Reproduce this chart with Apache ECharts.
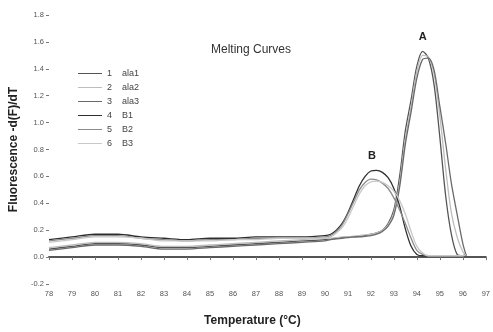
<!DOCTYPE html>
<html>
<head>
<meta charset="utf-8">
<script src="https://cdn.jsdelivr.net/npm/echarts@6/dist/echarts.min.js"></script>
<style>
  html, body { margin: 0; padding: 0; background: #fff; }
  #main { width: 493px; height: 332px; }
</style>
</head>
<body>
<div id="main"></div>
<script>
// temperatures shared by all curves
var temps = [78, 79, 80, 81, 82, 83, 84, 85, 86, 87, 88, 89, 90,
  90.25, 90.5, 90.75, 91, 91.25, 91.5, 91.75, 92, 92.25, 92.5, 92.75,
  93, 93.25, 93.5, 93.75, 94, 94.25, 94.5, 94.75, 95, 95.25, 95.5, 95.75, 96, 96.15];

var seriesNames = ['ala1', 'ala2', 'ala3', 'B1', 'B2', 'B3'];
var seriesColors = ['#555555', '#bdbdbd', '#6a6a6a', '#2e2e2e', '#8c8c8c', '#c8c8c8'];

var ala1 = [0.06, 0.08, 0.10, 0.10, 0.09, 0.07, 0.07, 0.08, 0.09, 0.10, 0.11, 0.12, 0.13,
  0.135, 0.14, 0.145, 0.15, 0.15, 0.155, 0.16, 0.17, 0.18, 0.20, 0.25,
  0.35, 0.60, 0.94, 1.17, 1.42, 1.53, 1.48, 1.28, 0.89, 0.46, 0.17, 0.02, 0.01, 0.01];
var ala2 = [0.07, 0.09, 0.11, 0.11, 0.10, 0.08, 0.08, 0.09, 0.10, 0.11, 0.12, 0.13, 0.14,
  0.14, 0.145, 0.15, 0.15, 0.155, 0.16, 0.165, 0.17, 0.18, 0.20, 0.24,
  0.33, 0.55, 0.88, 1.12, 1.38, 1.50, 1.49, 1.36, 1.05, 0.66, 0.33, 0.15, 0.04, 0.01];
var ala3 = [0.05, 0.07, 0.09, 0.09, 0.08, 0.06, 0.06, 0.07, 0.08, 0.09, 0.10, 0.11, 0.12,
  0.13, 0.135, 0.14, 0.145, 0.15, 0.15, 0.155, 0.16, 0.17, 0.19, 0.23,
  0.31, 0.52, 0.84, 1.08, 1.33, 1.47, 1.48, 1.39, 1.12, 0.85, 0.55, 0.32, 0.10, 0.01];
var b1 = [0.13, 0.15, 0.17, 0.17, 0.15, 0.14, 0.13, 0.14, 0.14, 0.15, 0.15, 0.15, 0.16,
  0.17, 0.20, 0.25, 0.33, 0.43, 0.53, 0.60, 0.64, 0.645, 0.63, 0.59,
  0.51, 0.38, 0.21, 0.08, 0.02, 0.01, 0.01, 0.01, 0.01, 0.01, 0.01, 0.01, 0.01, 0.02];
var b2 = [0.12, 0.14, 0.16, 0.16, 0.14, 0.13, 0.12, 0.13, 0.13, 0.14, 0.14, 0.14, 0.15,
  0.16, 0.19, 0.24, 0.32, 0.41, 0.50, 0.555, 0.58, 0.575, 0.55, 0.51,
  0.44, 0.35, 0.25, 0.14, 0.05, 0.02, 0.01, 0.01, 0.01, 0.01, 0.01, 0.01, 0.01, 0.02];
var b3 = [0.11, 0.13, 0.15, 0.15, 0.14, 0.12, 0.12, 0.12, 0.13, 0.13, 0.14, 0.14, 0.14,
  0.15, 0.18, 0.22, 0.29, 0.38, 0.47, 0.53, 0.56, 0.565, 0.555, 0.53,
  0.49, 0.42, 0.32, 0.19, 0.08, 0.03, 0.01, 0.01, 0.01, 0.01, 0.01, 0.01, 0.01, 0.02];

var peakLabels = [
  { name: 'A', coord: [94.25, 1.53] },
  { name: 'B', coord: [92.05, 0.645] }
];

var allValues = [ala1, ala2, ala3, b1, b2, b3];
var font = 'Liberation Sans';

var chart = echarts.init(document.getElementById('main'));

var series = allValues.map(function (vals, i) {
  var s = {
    name: seriesNames[i],
    type: 'line',
    smooth: 0.3,
    symbol: 'none',
    lineStyle: { width: 1.3, color: seriesColors[i] },
    itemStyle: { color: seriesColors[i] },
    data: temps.map(function (t, k) { return [t, vals[k]]; })
  };
  if (i === 0) {
    s.markPoint = {
      symbol: 'circle',
      symbolSize: 0,
      label: {
        show: true,
        formatter: '{b}',
        offset: [0, -14],
        color: '#222',
        fontWeight: 'bold',
        fontSize: 11,
        fontFamily: font
      },
      data: peakLabels
    };
  }
  return s;
});

var option = {
  animation: false,
  backgroundColor: '#fff',
  title: {
    text: 'Melting Curves',
    left: 246,
    top: 39,
    textAlign: 'center',
    textStyle: { fontSize: 12, fontWeight: 'normal', color: '#333', fontFamily: font }
  },
  legend: {
    orient: 'vertical',
    left: 73,
    top: 64,
    itemWidth: 24,
    itemHeight: 8,
    itemGap: 5,
    data: seriesNames.map(function (n, i) {
      return { name: n, icon: 'path://M0,4L24,4L24,5L0,5Z', itemStyle: { color: seriesColors[i] } };
    }),
    formatter: function (name) {
      return '{n|' + (seriesNames.indexOf(name) + 1) + '}{t|' + name + '}';
    },
    textStyle: {
      fontFamily: font,
      fontSize: 9,
      color: '#444',
      rich: {
        n: { width: 15, fontSize: 9, color: '#444', fontFamily: font },
        t: { fontSize: 9, color: '#444', fontFamily: font }
      }
    }
  },
  grid: { left: 46, right: 6, top: 15, bottom: 46 },
  xAxis: {
    type: 'value',
    min: 78,
    max: 97,
    interval: 1,
    name: 'Temperature (\u00b0C)',
    nameLocation: 'middle',
    nameGap: 31,
    nameTextStyle: { fontFamily: font, fontSize: 12, fontWeight: 'bold', color: '#222', padding: [0, 30, 0, 0] },
    axisLine: { show: true, lineStyle: { color: '#555', width: 2 } },
    axisTick: { show: true, length: 3, lineStyle: { color: '#777' } },
    axisLabel: { fontFamily: font, fontSize: 7.5, color: '#555', margin: 6 },
    splitLine: { show: false }
  },
  yAxis: {
    type: 'value',
    min: -0.2,
    max: 1.8,
    interval: 0.2,
    name: 'Fluorescence -d(F)/dT',
    nameLocation: 'middle',
    nameGap: 29,
    nameTextStyle: { fontFamily: font, fontSize: 12, fontWeight: 'bold', color: '#222' },
    axisLine: { show: false },
    axisTick: { show: true, length: 3, lineStyle: { color: '#777' } },
    axisLabel: {
      fontFamily: font, fontSize: 7.5, color: '#555', margin: 5,
      formatter: function (v) { return v.toFixed(1); }
    },
    splitLine: { show: false }
  },
  series: series
};

chart.setOption(option);
</script>
</body>
</html>
